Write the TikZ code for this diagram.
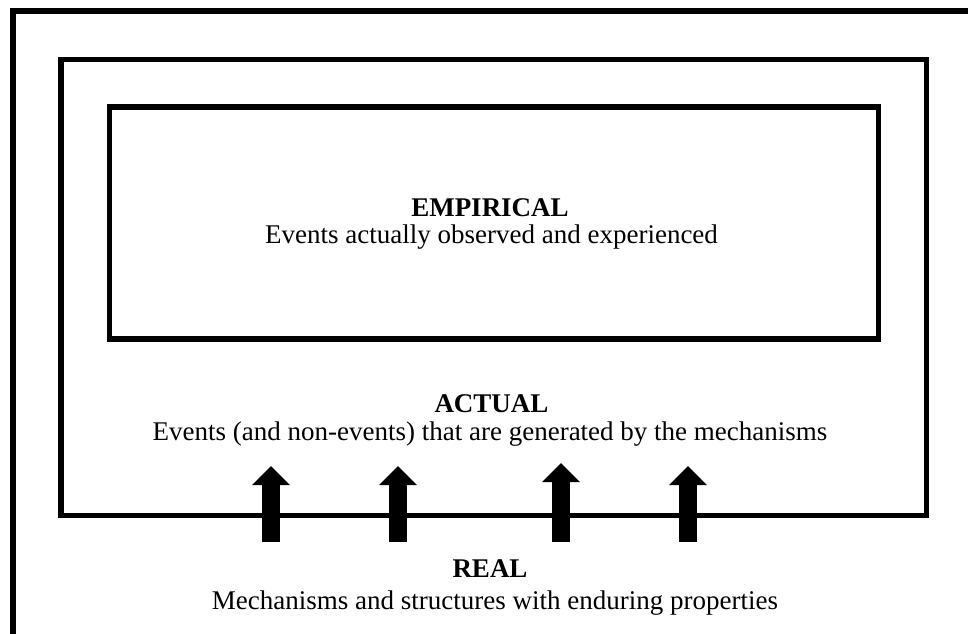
\documentclass[tikz,border=0pt]{standalone}
\usepackage{fontspec}
\setmainfont{Liberation Serif}
\usepackage{tikz}
\usetikzlibrary{arrows.meta}
\newcommand{\levelfont}{\fontsize{13.5}{16}\selectfont}
\tikzstyle{frame} = [line width=2.6pt]
\tikzstyle{uparrow} = [line width=9.2pt, -{Triangle[width=19pt,length=9.5pt,line width=0pt]}]
\tikzstyle{head} = [font=\levelfont\bfseries]

\begin{document}
\begin{tikzpicture}[x=0.5pt, y=-0.5pt, every node/.style={anchor=base, inner sep=0pt, font=\levelfont}]
    \clip (0,0) rectangle (968,633);
    % the three levels
    \draw[frame] (13,11) rectangle (1000,700);
    \draw[frame] (61,59.5) rectangle (926.5,515.5);
    \draw[frame] (109.5,107) rectangle (878.5,339);
    \draw (490,216) node[head] (emp) {EMPIRICAL};
    \draw (491.5,243) node (empt) {Events actually observed and experienced};
    \draw (491.5,412) node[head] (act) {ACTUAL};
    \draw (490,440) node (actt) {Events (and non-events) that are generated by the mechanisms};
    \draw (490,577) node[head] (real) {REAL};
    \draw (495,609) node (realt) {Mechanisms and structures with enduring properties};
    % mechanisms push up
    \coordinate (b1) at (271,542);
    \coordinate (t1) at (271,466);
    \coordinate (b2) at (398,542);
    \coordinate (t2) at (398,466);
    \coordinate (b3) at (561,542);
    \coordinate (t3) at (561,463);
    \coordinate (b4) at (688,542);
    \coordinate (t4) at (688,466);
    \draw [uparrow] (b1) -- (t1);
    \draw [uparrow] (b2) -- (t2);
    \draw [uparrow] (b3) -- (t3);
    \draw [uparrow] (b4) -- (t4);
\end{tikzpicture}
\end{document}
